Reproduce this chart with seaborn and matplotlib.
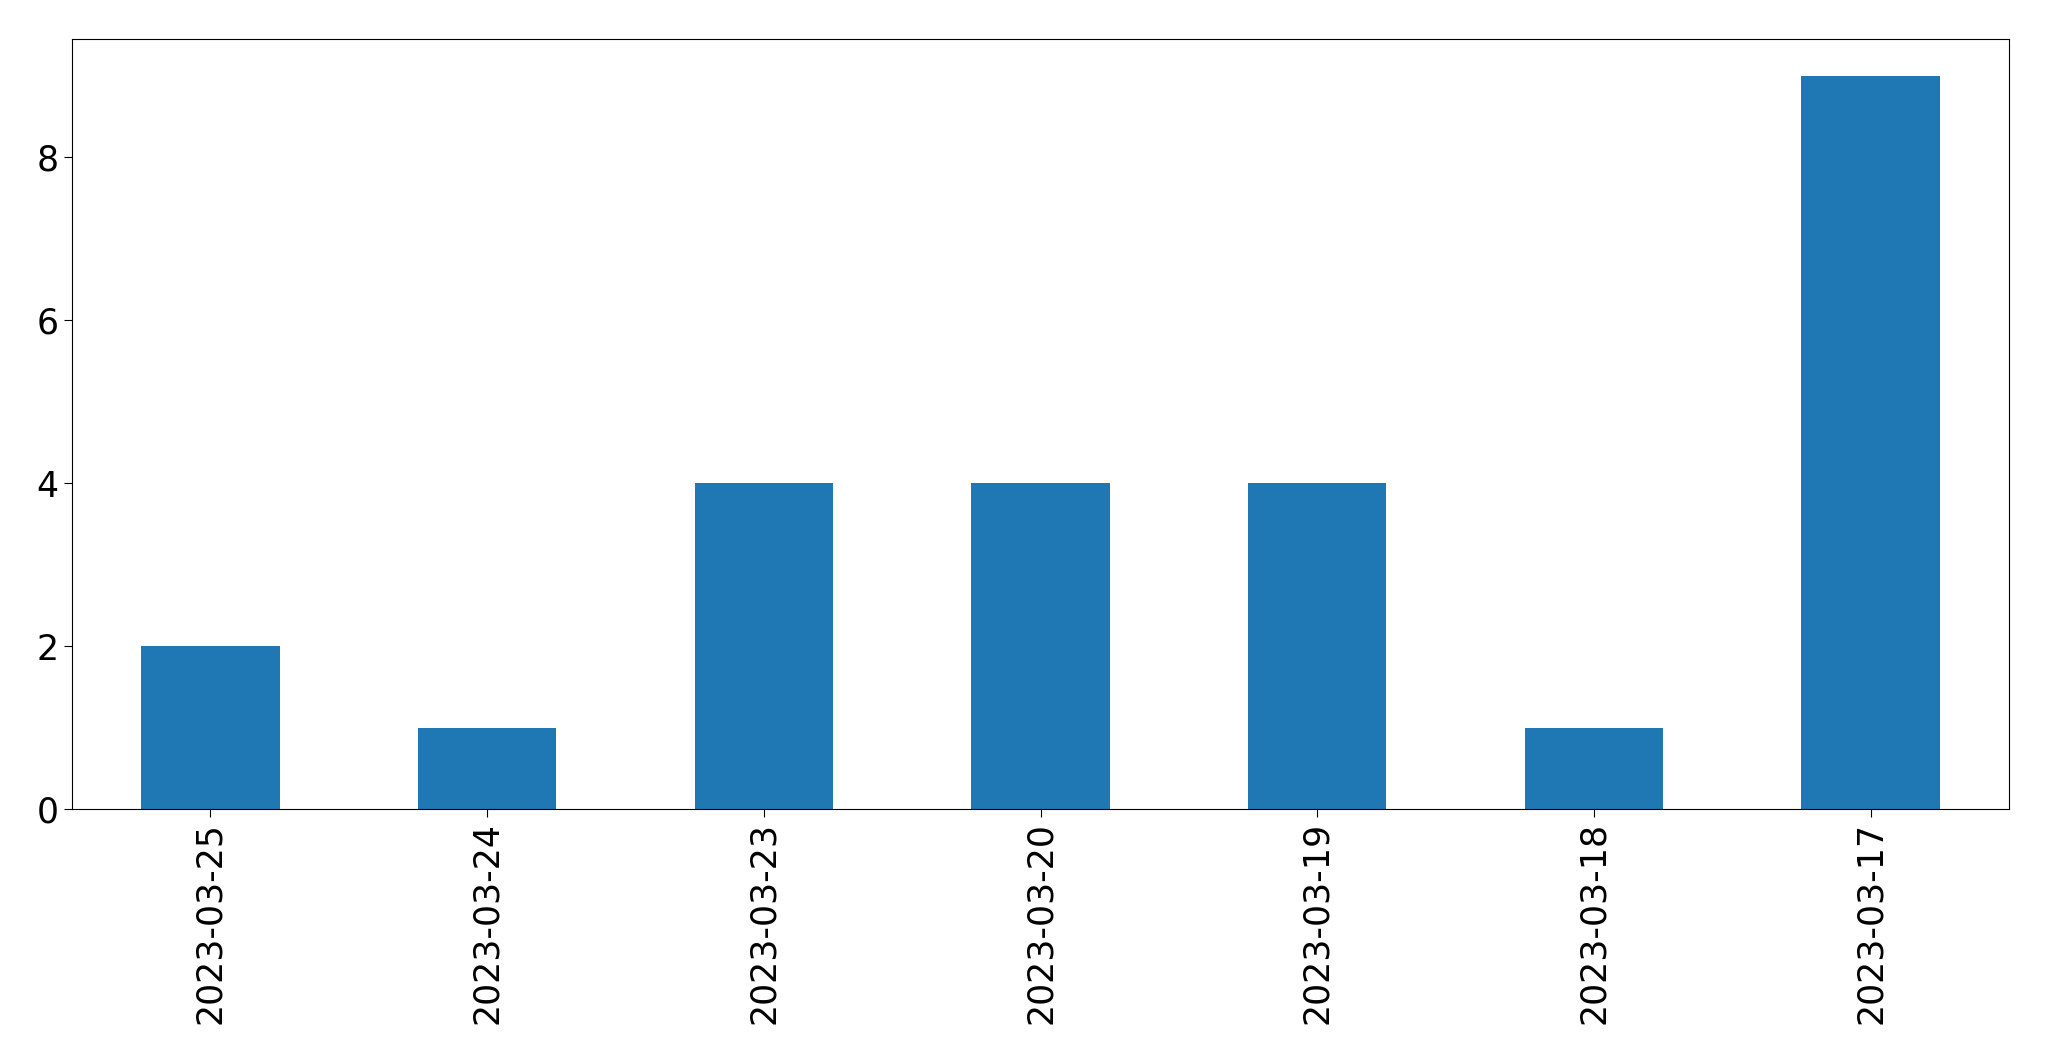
import matplotlib
matplotlib.use("Agg")
import matplotlib.pyplot as plt
import seaborn as sns
import pandas as pd

dates = ["2023-03-25", "2023-03-24", "2023-03-23", "2023-03-20",
         "2023-03-19", "2023-03-18", "2023-03-17"]
counts = [2, 1, 4, 4, 4, 1, 9]

df = pd.DataFrame({"date": dates, "count": counts})

fig = plt.figure(figsize=(20.49, 10.61), dpi=100)
ax = fig.add_axes([72/2049, 1 - 809/1061, (2009-72)/2049, (809-39)/1061])
sns.barplot(data=df, x="date", y="count", color="#1f77b4", saturation=1,
            width=0.5, ax=ax, order=dates)
ax.set_xlim(-0.5, 6.5)
ax.set_ylim(0, 9.45)
ax.set_xlabel("")
ax.set_ylabel("")
ax.set_yticks([0, 2, 4, 6, 8])
ax.tick_params(axis="both", labelsize=25, length=6)
for lab in ax.get_xticklabels():
    lab.set_rotation(90)
fig.savefig("out.png", dpi=100)
